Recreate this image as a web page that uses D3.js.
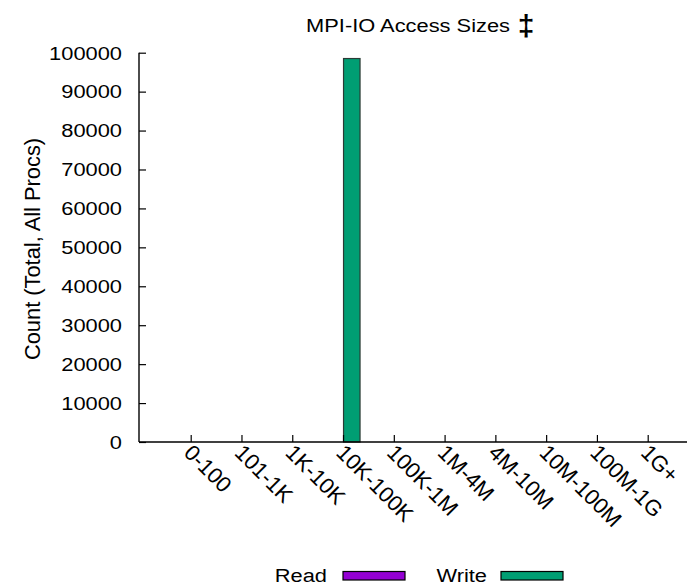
<!DOCTYPE html>
<html>
<head>
<meta charset="utf-8">
<script src="https://cdn.jsdelivr.net/npm/d3@7"></script>
<style>
  html, body { margin: 0; padding: 0; background: #fff; }
  svg { display: block; }
  text { font-family: "Liberation Sans", Arial, Helvetica, sans-serif; fill: #000; }
</style>
</head>
<body>
<svg id="chart" width="687" height="586"></svg>
<script>
// Access-size buckets and per-bucket operation counts (all processes)
const categories = ["0-100", "101-1K", "1K-10K", "10K-100K", "100K-1M", "1M-4M", "4M-10M", "10M-100M", "100M-1G", "1G+"];
const readCounts  = [0, 0, 0, 0, 0, 0, 0, 0, 0, 0];
const writeCounts = [0, 0, 0, 98500, 0, 0, 0, 0, 0, 0];
const yTicks = [0, 10000, 20000, 30000, 40000, 50000, 60000, 70000, 80000, 90000, 100000];

const titleText = "MPI-IO Access Sizes";
const titleMark = "\u2021";
const yLabel = "Count (Total, All Procs)";
const seriesNames = ["Read", "Write"];
const seriesColors = ["#9400d3", "#009e73"];

const svg = d3.select("#chart");
const plotLeft = 139, plotRight = 687, plotTop = 52.7, plotBottom = 442;
const fontSize = 19;
const stretch = 1.15; // horizontal text widening

const x = d3.scalePoint().domain(categories).range([190.7, 647.7]);
const y = d3.scaleLinear().domain([0, 100000]).range([plotBottom, plotTop]);
const barW = 16.5;

// bars: read sits left of each tick, write right of it
const series = [readCounts, writeCounts];
series.forEach((vals, si) => {
  svg.append("g").selectAll("rect")
    .data(categories.map((c, i) => ({ c, v: vals[i] })))
    .join("rect")
    .attr("x", d => si === 0 ? x(d.c) - barW : x(d.c) + 0.5)
    .attr("y", d => y(d.v))
    .attr("width", barW)
    .attr("height", d => plotBottom - y(d.v))
    .attr("fill", seriesColors[si])
    .attr("stroke", "#2b3b35")
    .attr("stroke-width", 1.2);
});

// y axis with inward ticks
const yAxis = d3.axisRight(y).tickValues(yTicks).tickSize(7).tickFormat("");
const gy = svg.append("g").attr("transform", `translate(${plotLeft},0)`).call(yAxis);
gy.select(".domain").remove();
gy.selectAll(".tick line").attr("stroke", "#000").attr("stroke-width", 1.2);
svg.append("line").attr("x1", plotLeft).attr("x2", plotLeft).attr("y1", plotTop).attr("y2", plotBottom)
  .attr("stroke", "#000").attr("stroke-width", 1.4);

yTicks.forEach(t => {
  svg.append("text")
    .attr("transform", `translate(${122},${y(t) + 6.8}) scale(${stretch},1)`)
    .attr("text-anchor", "end")
    .attr("font-size", fontSize)
    .text(d3.format("d")(t));
});

// x axis with inward ticks
const xAxis = d3.axisTop(x).tickSize(7).tickFormat("");
const gx = svg.append("g").attr("transform", `translate(0,${plotBottom})`).call(xAxis);
gx.select(".domain").remove();
gx.selectAll(".tick line").attr("stroke", "#000").attr("stroke-width", 1.2);
svg.append("line").attr("x1", plotLeft).attr("x2", plotRight).attr("y1", plotBottom).attr("y2", plotBottom)
  .attr("stroke", "#000").attr("stroke-width", 1.4);

categories.forEach(c => {
  svg.append("text")
    .attr("transform", `translate(${x(c) - 8},${plotBottom + 12}) rotate(45)`)
    .attr("text-anchor", "start")
    .attr("font-size", 22)
    .text(c);
});

// title
svg.append("text")
  .attr("transform", `translate(${510},${32}) scale(${stretch},1)`)
  .attr("text-anchor", "end")
  .attr("font-size", fontSize)
  .text(titleText);
svg.append("text")
  .attr("x", 526).attr("y", 36)
  .attr("text-anchor", "middle")
  .attr("font-size", 30)
  .attr("font-weight", "bold")
  .text(titleMark);

// y label
svg.append("text")
  .attr("transform", `translate(${40},${249}) rotate(-90)`)
  .attr("text-anchor", "middle")
  .attr("font-size", fontSize * stretch)
  .text(yLabel);

// legend
const legendItems = [
  { name: seriesNames[0], color: seriesColors[0], textEnd: 327, sx: 343 },
  { name: seriesNames[1], color: seriesColors[1], textEnd: 487, sx: 501 }
];
legendItems.forEach(it => {
  svg.append("text")
    .attr("transform", `translate(${it.textEnd},${582}) scale(${stretch},1)`)
    .attr("text-anchor", "end")
    .attr("font-size", fontSize)
    .text(it.name);
  svg.append("rect")
    .attr("x", it.sx).attr("y", 571.5).attr("width", 62).attr("height", 8.5)
    .attr("fill", it.color).attr("stroke", "#000").attr("stroke-width", 1.2);
});
</script>
</body>
</html>
